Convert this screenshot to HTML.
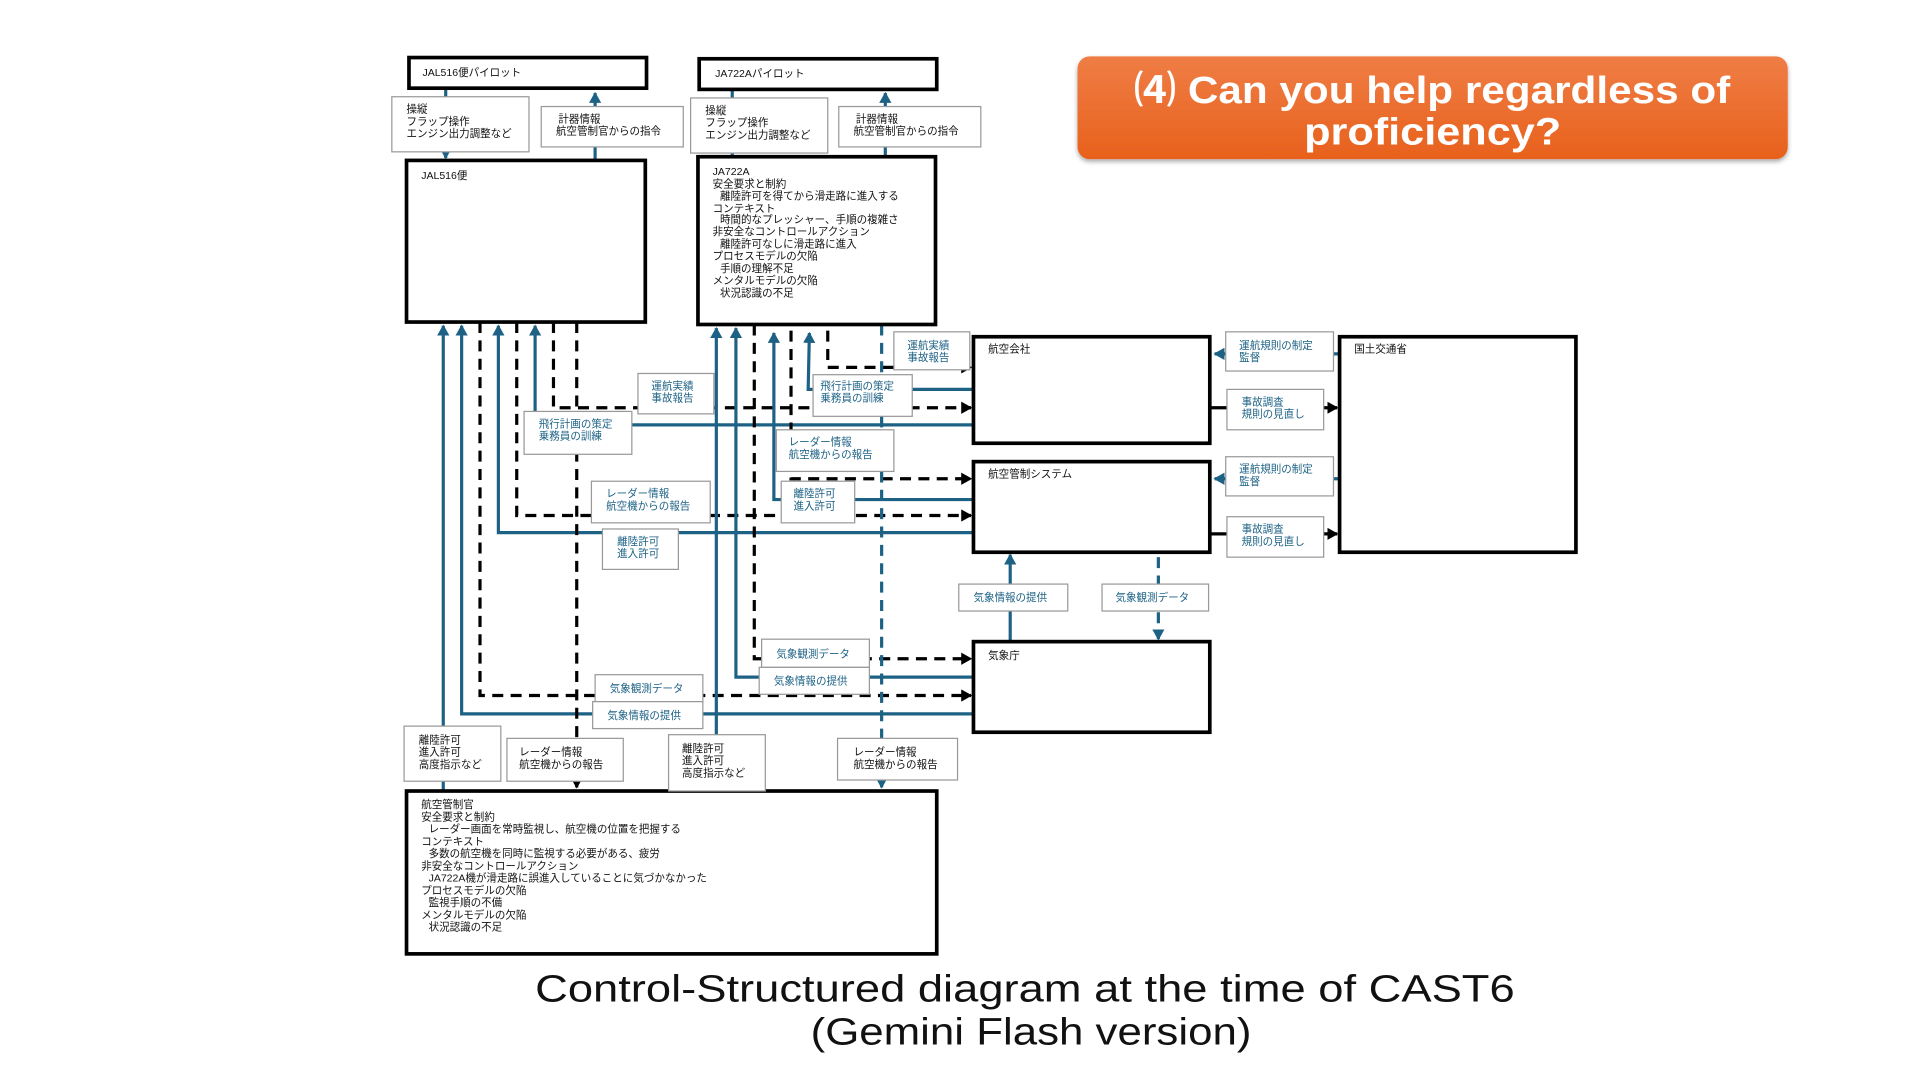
<!DOCTYPE html>
<html><head><meta charset="utf-8"><style>
html,body{margin:0;padding:0;background:#fff;width:1920px;height:1080px;overflow:hidden}
svg{display:block}
text{font-family:"Liberation Sans","Noto Sans CJK JP",sans-serif}
</style></head><body>
<svg width="1920" height="1080" viewBox="0 0 1568 882" xmlns="http://www.w3.org/2000/svg">
<defs>
<marker id="ab" markerWidth="10" markerHeight="10" refX="8" refY="5" orient="auto" markerUnits="userSpaceOnUse"><path d="M0,0 L9,5 L0,10 z" fill="#000"/></marker>
<marker id="au" markerWidth="10" markerHeight="10" refX="8" refY="5" orient="auto" markerUnits="userSpaceOnUse"><path d="M0,0 L9,5 L0,10 z" fill="#1d6285"/></marker>
<linearGradient id="og" x1="0" y1="0" x2="0" y2="1"><stop offset="0" stop-color="#ef7d45"/><stop offset="1" stop-color="#e8611c"/></linearGradient>
<filter id="sh"><feDropShadow dx="0" dy="2" stdDeviation="2" flood-opacity="0.35"/></filter>
</defs>

<!-- title -->
<rect x="880" y="46" width="580" height="84" rx="10" fill="url(#og)" filter="url(#sh)"/>
<text x="926" y="84" textLength="487" lengthAdjust="spacingAndGlyphs" fill="#fff" font-size="31" font-weight="bold">⑷ Can you help regardless of</text>
<text x="1065" y="118" textLength="210" lengthAdjust="spacingAndGlyphs" fill="#fff" font-size="31" font-weight="bold">proficiency?</text>

<!-- caption -->
<text x="437" y="818" textLength="800" lengthAdjust="spacingAndGlyphs" font-size="31" fill="#111">Control-Structured diagram at the time of CAST6</text>
<text x="662" y="853" textLength="360" lengthAdjust="spacingAndGlyphs" font-size="31" fill="#111">(Gemini Flash version)</text>

<g fill="none" stroke-width="2.6">
<line x1="364" y1="72" x2="364" y2="129" stroke="#1d6285" marker-end="url(#au)"/>
<line x1="486" y1="131" x2="486" y2="76" stroke="#1d6285" marker-end="url(#au)"/>
<line x1="598" y1="73" x2="598" y2="127" stroke="#1d6285" marker-end="url(#au)"/>
<line x1="723" y1="128" x2="723" y2="76" stroke="#1d6285" marker-end="url(#au)"/>

<polyline points="362,646 362,266" stroke="#1d6285" marker-end="url(#au)"/>
<polyline points="795,583 377,583 377,266" stroke="#1d6285" marker-end="url(#au)"/>
<polyline points="392,263 392,568 793,568" stroke="#000" stroke-dasharray="9,6" marker-end="url(#ab)"/>
<polyline points="795,435 407,435 407,266" stroke="#1d6285" marker-end="url(#au)"/>
<polyline points="422,263 422,421 793,421" stroke="#000" stroke-dasharray="9,6" marker-end="url(#ab)"/>
<polyline points="795,347 437,347 437,266" stroke="#1d6285" marker-end="url(#au)"/>
<polyline points="452,263 452,333 793,333" stroke="#000" stroke-dasharray="9,6" marker-end="url(#ab)"/>
<polyline points="471,263 471,643" stroke="#000" stroke-dasharray="9,6" marker-end="url(#ab)"/>

<polyline points="585,646 585,268" stroke="#1d6285" marker-end="url(#au)"/>
<polyline points="795,553 601,553 601,268" stroke="#1d6285" marker-end="url(#au)"/>
<polyline points="616,265 616,538 793,538" stroke="#000" stroke-dasharray="9,6" marker-end="url(#ab)"/>
<polyline points="795,408 632,408 632,272" stroke="#1d6285" marker-end="url(#au)"/>
<polyline points="646,270 646,391 793,391" stroke="#000" stroke-dasharray="9,6" marker-end="url(#ab)"/>
<polyline points="795,318 660,318 661,272" stroke="#1d6285" marker-end="url(#au)"/>
<polyline points="676,270 676,300 793,300" stroke="#000" stroke-dasharray="9,6" marker-end="url(#ab)"/>
<polyline points="720,265 720,643" stroke="#1d6285" stroke-dasharray="9,6" marker-end="url(#au)"/>

<line x1="825" y1="524" x2="825" y2="453" stroke="#1d6285" marker-end="url(#au)"/>
<line x1="946" y1="455" x2="946" y2="522" stroke="#1d6285" stroke-dasharray="9,6" marker-end="url(#au)"/>

<line x1="1094" y1="289" x2="992" y2="289" stroke="#1d6285" marker-end="url(#au)"/>
<line x1="988" y1="333" x2="1092" y2="333" stroke="#000" marker-end="url(#ab)"/>
<line x1="1094" y1="391" x2="992" y2="391" stroke="#1d6285" marker-end="url(#au)"/>
<line x1="988" y1="436" x2="1092" y2="436" stroke="#000" marker-end="url(#ab)"/>
</g>

<g fill="#fff" stroke="#000" stroke-width="3">
<rect x="334" y="47" width="194" height="25"/>
<rect x="571" y="48" width="194" height="25"/>
<rect x="332" y="131" width="195" height="132"/>
<rect x="570" y="128" width="194" height="137"/>
<rect x="795" y="275" width="193" height="87"/>
<rect x="795" y="377" width="193" height="74"/>
<rect x="795" y="524" width="193" height="74"/>
<rect x="1094" y="275" width="193" height="176"/>
<rect x="332" y="646" width="433" height="133"/>
</g>

<g fill="#fff" stroke="#999" stroke-width="1">
<rect x="320" y="79" width="112" height="45"/>
<rect x="442" y="87" width="116" height="33"/>
<rect x="564" y="80" width="112" height="45"/>
<rect x="685" y="87" width="116" height="33"/>
<rect x="521" y="305" width="62" height="33"/>
<rect x="428" y="336" width="88" height="35"/>
<rect x="483" y="393" width="97" height="34"/>
<rect x="492" y="432" width="62" height="33"/>
<rect x="486" y="551" width="88" height="22"/>
<rect x="484" y="573" width="90" height="22"/>
<rect x="330" y="593" width="79" height="45"/>
<rect x="414" y="603" width="95" height="35"/>
<rect x="546" y="600" width="79" height="46"/>
<rect x="684" y="603" width="98" height="34"/>
<rect x="730" y="271" width="62" height="31"/>
<rect x="664" y="306" width="81" height="34"/>
<rect x="634" y="351" width="96" height="34"/>
<rect x="638" y="393" width="60" height="34"/>
<rect x="622" y="522" width="88" height="23"/>
<rect x="620" y="545" width="90" height="22"/>
<rect x="783" y="477" width="89" height="22"/>
<rect x="900" y="477" width="87" height="22"/>
<rect x="1001" y="271" width="88" height="32"/>
<rect x="1002" y="318" width="79" height="33"/>
<rect x="1001" y="373" width="88" height="32"/>
<rect x="1002" y="422" width="79" height="33"/>
</g>

<g font-size="8.6" fill="#111">
<text x="345" y="62">JAL516便パイロット</text>
<text x="584" y="63">JA722Aパイロット</text>
<text x="332" y="92">操縦</text><text x="332" y="102">フラップ操作</text><text x="332" y="112">エンジン出力調整など</text>
<text x="456" y="100">計器情報</text><text x="454" y="110">航空管制官からの指令</text>
<text x="576" y="93">操縦</text><text x="576" y="103">フラップ操作</text><text x="576" y="113">エンジン出力調整など</text>
<text x="699" y="100">計器情報</text><text x="697" y="110">航空管制官からの指令</text>
<text x="344" y="146">JAL516便</text>
<text x="582" y="143">JA722A</text>
<text x="582" y="153">安全要求と制約</text>
<text x="588" y="163">離陸許可を得てから滑走路に進入する</text>
<text x="582" y="173">コンテキスト</text>
<text x="588" y="182">時間的なプレッシャー、手順の複雑さ</text>
<text x="582" y="192">非安全なコントロールアクション</text>
<text x="588" y="202">離陸許可なしに滑走路に進入</text>
<text x="582" y="212">プロセスモデルの欠陥</text>
<text x="588" y="222">手順の理解不足</text>
<text x="582" y="232">メンタルモデルの欠陥</text>
<text x="588" y="242">状況認識の不足</text>
<text x="807" y="288">航空会社</text>
<text x="807" y="390">航空管制システム</text>
<text x="807" y="538">気象庁</text>
<text x="1106" y="288">国土交通省</text>
<text x="342" y="607">離陸許可</text><text x="342" y="617">進入許可</text><text x="342" y="627">高度指示など</text>
<text x="424" y="617">レーダー情報</text><text x="424" y="627">航空機からの報告</text>
<text x="557" y="614">離陸許可</text><text x="557" y="624">進入許可</text><text x="557" y="634">高度指示など</text>
<text x="697" y="617">レーダー情報</text><text x="697" y="627">航空機からの報告</text>
<text x="344" y="660">航空管制官</text>
<text x="344" y="670">安全要求と制約</text>
<text x="350" y="680">レーダー画面を常時監視し、航空機の位置を把握する</text>
<text x="344" y="690">コンテキスト</text>
<text x="350" y="700">多数の航空機を同時に監視する必要がある、疲労</text>
<text x="344" y="710">非安全なコントロールアクション</text>
<text x="350" y="720">JA722A機が滑走路に誤進入していることに気づかなかった</text>
<text x="344" y="730">プロセスモデルの欠陥</text>
<text x="350" y="740">監視手順の不備</text>
<text x="344" y="750">メンタルモデルの欠陥</text>
<text x="350" y="760">状況認識の不足</text>
</g>

<g font-size="8.6" fill="#1d6285">
<text x="532" y="318">運航実績</text><text x="532" y="328">事故報告</text>
<text x="440" y="349">飛行計画の策定</text><text x="440" y="359">乗務員の訓練</text>
<text x="495" y="406">レーダー情報</text><text x="495" y="416">航空機からの報告</text>
<text x="504" y="445">離陸許可</text><text x="504" y="455">進入許可</text>
<text x="498" y="565">気象観測データ</text>
<text x="496" y="587">気象情報の提供</text>
<text x="741" y="285">運航実績</text><text x="741" y="295">事故報告</text>
<text x="670" y="318">飛行計画の策定</text><text x="670" y="328">乗務員の訓練</text>
<text x="644" y="364">レーダー情報</text><text x="644" y="374">航空機からの報告</text>
<text x="648" y="406">離陸許可</text><text x="648" y="416">進入許可</text>
<text x="634" y="537">気象観測データ</text>
<text x="632" y="559">気象情報の提供</text>
<text x="795" y="491">気象情報の提供</text>
<text x="911" y="491">気象観測データ</text>
<text x="1012" y="285">運航規則の制定</text><text x="1012" y="295">監督</text>
<text x="1014" y="331">事故調査</text><text x="1014" y="341">規則の見直し</text>
<text x="1012" y="386">運航規則の制定</text><text x="1012" y="396">監督</text>
<text x="1014" y="435">事故調査</text><text x="1014" y="445">規則の見直し</text>
</g>
</svg>
</body></html>
